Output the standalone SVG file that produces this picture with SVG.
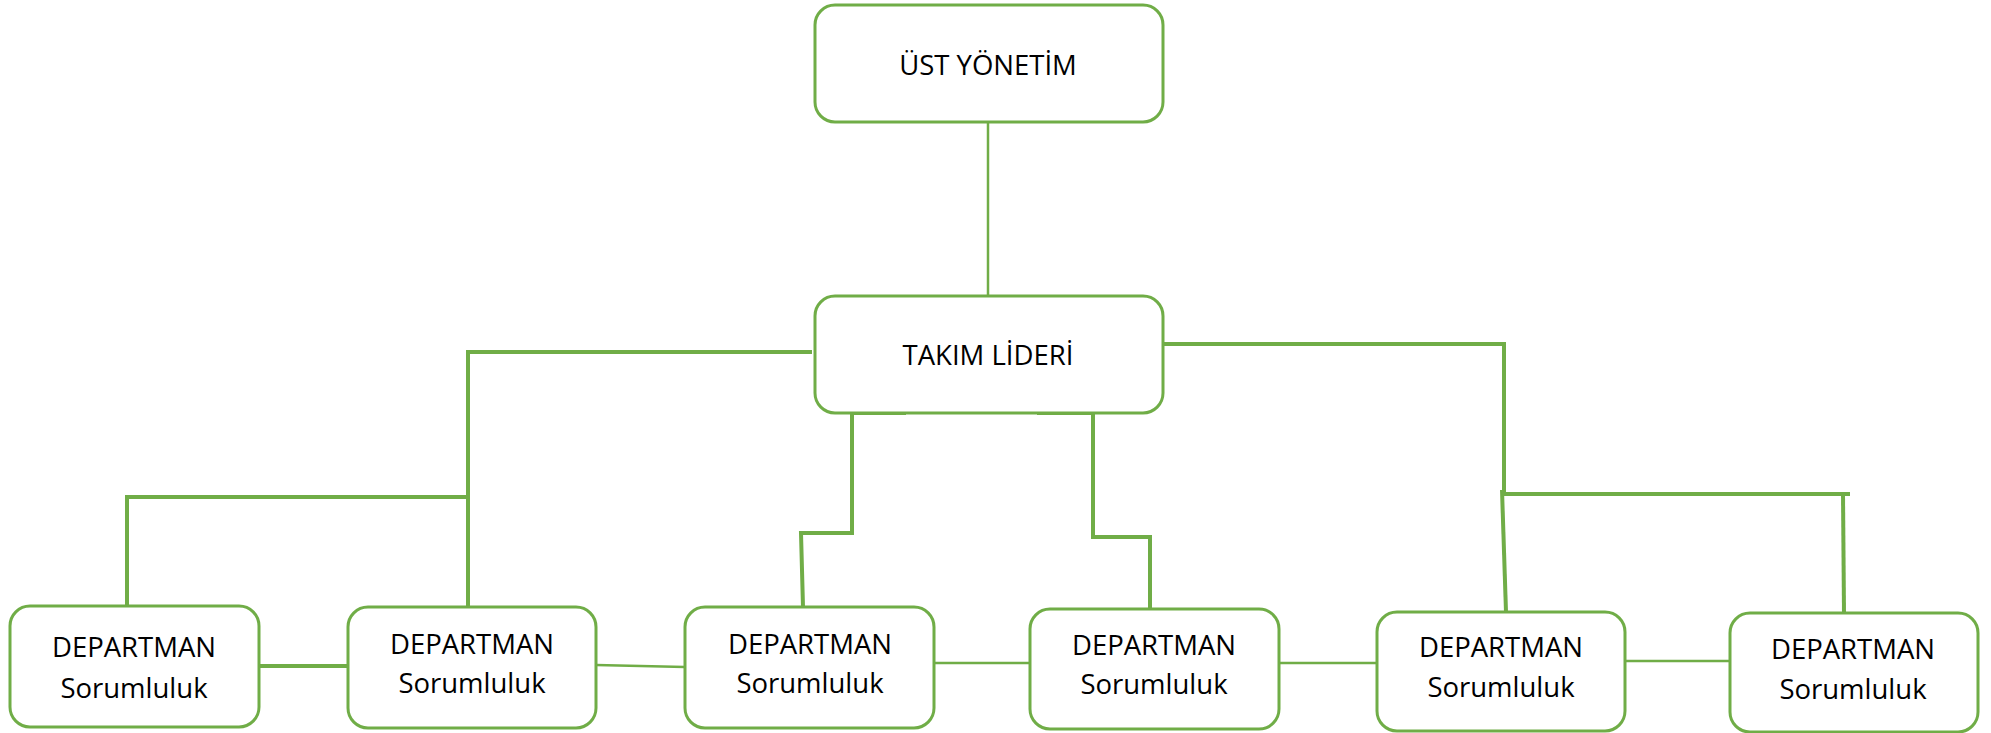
<svg xmlns="http://www.w3.org/2000/svg" width="1991" height="733" viewBox="0 0 1991 733">
<style>
.box{fill:#ffffff;stroke:#70AD47;stroke-width:3}
.c{fill:none;stroke:#70AD47;stroke-width:4;stroke-linecap:butt;stroke-linejoin:miter}
.t{stroke-width:2.5}
text{font-family:"Open Sans","Liberation Sans",sans-serif;font-size:27.5px;fill:#000;text-anchor:middle}
</style>
<rect width="1991" height="733" fill="#ffffff"/>
<g id="connectors">
<path class="c t" d="M988,122 V296"/>
<path class="c" d="M812,352 H468 V607"/>
<path class="c" d="M127,606 V497 H470"/>
<path class="c" d="M906,413 H852 V533 H801 L803,607"/>
<path class="c" d="M1037,413 H1093 V537 H1152"/>
<path class="c" d="M1150,537 V609"/>
<path class="c" d="M1162,344 H1504 V494"/>
<path class="c" d="M1502,490 L1506,612"/>
<path class="c" d="M1503,494 H1850"/>
<path class="c" d="M1843,494 L1844,613"/>
<path class="c" d="M256,666 H348"/>
<path class="c t" d="M596,665 L685,667"/>
<path class="c t" d="M934,663 H1030"/>
<path class="c t" d="M1279,663 H1377"/>
<path class="c t" d="M1625,661 H1730"/>
</g>
<g id="ust-yonetim">
<rect class="box" x="815" y="5" width="348" height="117" rx="20"/>
<text x="988" y="75">ÜST YÖNETİM</text>
</g>
<g id="takim-lideri">
<rect class="box" x="815" y="296" width="348" height="117" rx="20"/>
<text x="988" y="365">TAKIM LİDERİ</text>
</g>
<g id="dept1">
<rect class="box" x="10" y="606" width="249" height="121" rx="20"/>
<text x="134" y="657">DEPARTMAN</text>
<text x="134" y="698">Sorumluluk</text>
</g>
<g id="dept2">
<rect class="box" x="348" y="607" width="248" height="121" rx="20"/>
<text x="472" y="654">DEPARTMAN</text>
<text x="472" y="693">Sorumluluk</text>
</g>
<g id="dept3">
<rect class="box" x="685" y="607" width="249" height="121" rx="20"/>
<text x="810" y="654">DEPARTMAN</text>
<text x="810" y="693">Sorumluluk</text>
</g>
<g id="dept4">
<rect class="box" x="1030" y="609" width="249" height="120" rx="20"/>
<text x="1154" y="655">DEPARTMAN</text>
<text x="1154" y="694">Sorumluluk</text>
</g>
<g id="dept5">
<rect class="box" x="1377" y="612" width="248" height="119" rx="20"/>
<text x="1501" y="657">DEPARTMAN</text>
<text x="1501" y="697">Sorumluluk</text>
</g>
<g id="dept6">
<rect class="box" x="1730" y="613" width="248" height="119" rx="20"/>
<text x="1853" y="659">DEPARTMAN</text>
<text x="1853" y="699">Sorumluluk</text>
</g>
</svg>
